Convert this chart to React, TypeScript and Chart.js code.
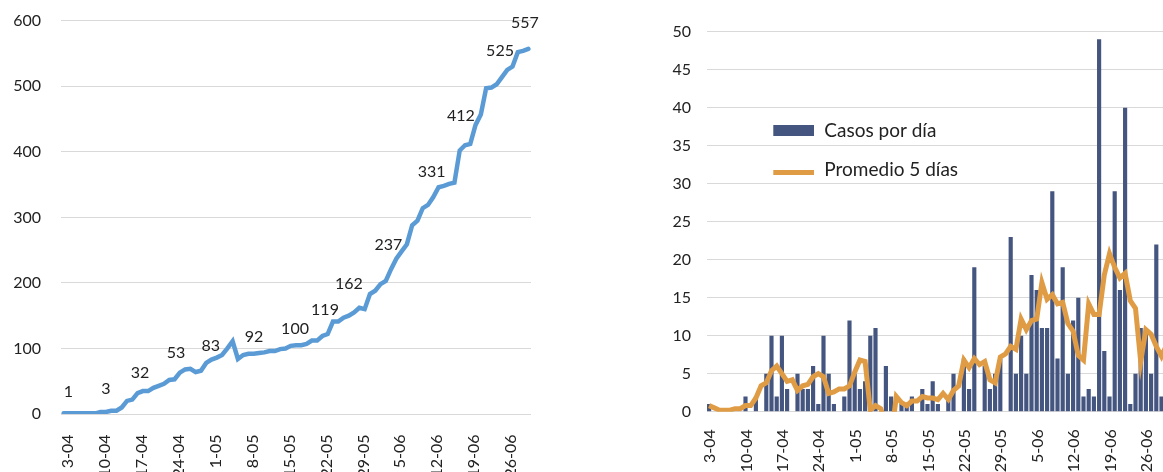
import React, { useEffect, useRef } from 'react';
import { Chart, registerables } from 'chart.js';

Chart.register(...registerables);

// ---------- data ----------
const DATES = [
  '3-04','4-04','5-04','6-04','7-04','8-04','9-04','10-04','11-04','12-04','13-04','14-04','15-04','16-04',
  '17-04','18-04','19-04','20-04','21-04','22-04','23-04','24-04','25-04','26-04','27-04','28-04','29-04','30-04',
  '1-05','2-05','3-05','4-05','5-05','6-05','7-05','8-05','9-05','10-05','11-05','12-05','13-05','14-05','15-05',
  '16-05','17-05','18-05','19-05','20-05','21-05','22-05','23-05','24-05','25-05','26-05','27-05','28-05','29-05',
  '30-05','31-05','1-06','2-06','3-06','4-06','5-06','6-06','7-06','8-06','9-06','10-06','11-06','12-06',
  '13-06','14-06','15-06','16-06','17-06','18-06','19-06','20-06','21-06','22-06','23-06','24-06','25-06','26-06',
  '27-06','28-06','29-06','30-06',
];

const TICK_LABELS = ['3-04','10-04','17-04','24-04','1-05','8-05','15-05','22-05','29-05','5-06','12-06','19-06','26-06'];

// Casos acumulados (left chart)
const CUMULATIVE = [
  1,1,1,1,1,1,1,3,3,5,5,10,20,22,
  32,35,35,40,43,46,52,53,63,68,69,64,66,78,
  83,86,90,100,111,84,90,92,92,93,94,96,96,99,
  100,104,105,105,107,112,112,119,122,141,141,147,150,155,
  162,160,183,188,198,203,221,237,248,259,288,295,314,319,
  331,346,348,351,353,402,410,412,441,457,497,498,503,514,
  525,530,552,554,557,
];

// Casos por día (right chart, bars)
const DAILY_CASES = [
  1,0,0,0,0,0,0,2,0,2,0,5,10,2,
  10,3,0,5,3,3,6,1,10,5,1,-5,2,12,
  5,3,4,10,11,-27,6,2,0,1,1,2,0,3,
  1,4,1,0,2,5,0,7,3,19,0,6,3,5,
  7,-2,23,5,10,5,18,16,11,11,29,7,19,5,
  12,15,2,3,2,49,8,2,29,16,40,1,5,11,
  11,5,22,2,3,
];

// Promedio 5 días (right chart, line)
const AVG_5_DAYS = [
  0.8,0.5,0.2,0.2,0.2,0.4,0.4,0.8,0.8,1.8,3.4,3.8,5.4,6.0,
  5.0,4.0,4.2,2.8,3.4,3.6,4.6,5.0,4.6,2.4,2.6,3.0,3.0,3.4,
  5.2,6.8,6.6,0.2,0.8,0.4,-1.6,-3.6,2.0,1.2,0.8,1.4,1.4,2.0,
  1.8,1.8,1.6,2.4,1.6,2.8,3.4,6.8,5.8,7.0,6.2,6.6,4.2,3.8,
  7.2,7.6,8.6,8.2,12.2,10.8,12.0,12.2,17.0,14.8,15.4,14.2,14.4,11.6,
  10.6,7.4,6.8,14.2,12.8,12.8,18.0,20.8,19.0,17.6,18.2,14.6,13.6,6.6,
  10.8,10.2,8.6,7.3,8.8,
];

const LABELED_DATES = ['3-04','10-04','17-04','24-04','1-05','8-05','15-05','22-05','29-05','5-06','12-06','19-06','26-06','30-06'];

const SERIES_BAR = 'Casos por día';
const SERIES_LINE = 'Promedio 5 días';

// ---------- styles ----------
const FONT = 'Lato, "Open Sans", sans-serif';
const TEXT = '#222222';
const GRID = '#D9D9D9';
const BLUE = '#5B9BD5';
const NAVY = '#44557F';
const ORANGE = '#DF9C45';
const LABEL_DX = [4.7, 5.4, 2.4, 1.5, -0.8, 5.5, 9.6, 2.6, -10.4, -8, -1.6, -9.3, -7.2, -3.4];
const LABEL_DY = [-21.6, -22.7, -19.7, -26, -13.9, -17, -19.2, -26, -23.5, -14.3, -24.7, -28, -18.9, -25.6];

function tickCallback(this: any, value: any) {
  const lab = this.getLabelForValue(value);
  return TICK_LABELS.includes(lab) ? lab : '';
}

const dataLabelPlugin = {
  id: 'cumLabels',
  afterDatasetsDraw(chart: any) {
    const ctx = chart.ctx;
    const meta = chart.getDatasetMeta(0);
    ctx.save();
    ctx.font = `16px ${FONT}`;
    ctx.fillStyle = TEXT;
    ctx.textAlign = 'center';
    ctx.textBaseline = 'middle';
    LABELED_DATES.forEach((d, k) => {
      const idx = DATES.indexOf(d);
      const pt = meta.data[idx];
      if (!pt) return;
      ctx.fillText(String(CUMULATIVE[idx]), pt.x + LABEL_DX[k], pt.y + LABEL_DY[k]);
    });
    ctx.restore();
  },
};

const legendPlugin = {
  id: 'innerLegend',
  afterDraw(chart: any) {
    const ctx = chart.ctx;
    ctx.save();
    ctx.fillStyle = NAVY;
    ctx.fillRect(153.3, 125, 40.7, 11);
    ctx.strokeStyle = ORANGE;
    ctx.lineWidth = 5;
    ctx.lineCap = 'butt';
    ctx.beginPath();
    ctx.moveTo(153.3, 172.5);
    ctx.lineTo(194, 172.5);
    ctx.stroke();
    ctx.font = `19px ${FONT}`;
    ctx.fillStyle = TEXT;
    ctx.textAlign = 'left';
    ctx.textBaseline = 'alphabetic';
    ctx.fillText(SERIES_BAR, 204.3, 136.7);
    ctx.fillText(SERIES_LINE, 204.3, 176);
    ctx.restore();
  },
};

function fixX(height: number) {
  return (s: any) => {
    s.height = height;
    s.paddingLeft = 0;
    s.paddingRight = 0;
    s.paddingTop = 0;
    s.paddingBottom = 0;
  };
}

function fixY(width: number) {
  return (s: any) => {
    s.width = width;
    s.paddingTop = 0;
    s.paddingBottom = 0;
    s.paddingLeft = 0;
    s.paddingRight = 0;
  };
}

export default function App() {
  const leftRef = useRef<HTMLCanvasElement>(null);
  const rightRef = useRef<HTMLCanvasElement>(null);

  useEffect(() => {
    const tickFont = { family: FONT, size: 16 };

    const left = new Chart(leftRef.current as HTMLCanvasElement, {
      type: 'line',
      data: {
        labels: DATES,
        datasets: [
          {
            label: 'Casos acumulados',
            data: CUMULATIVE,
            borderColor: BLUE,
            backgroundColor: BLUE,
            borderWidth: 4.5,
            pointRadius: 0,
            tension: 0,
            borderJoinStyle: 'miter',
            borderCapStyle: 'round',
          },
        ],
      },
      options: {
        animation: false,
        responsive: false,
        layout: { padding: { top: 20.7, right: 29, bottom: 0, left: 0 } },
        plugins: { legend: { display: false }, tooltip: { enabled: false } },
        scales: {
          x: {
            type: 'category',
            offset: true,
            grid: { display: false },
            border: { display: false },
            ticks: {
              autoSkip: false,
              minRotation: 90,
              maxRotation: 90,
              padding: 12.5,
              labelOffset: 4,
              color: TEXT,
              font: tickFont,
              callback: tickCallback,
            },
            afterFit: fixX(58),
          },
          y: {
            min: 0,
            max: 600,
            ticks: { stepSize: 100, padding: 20, color: TEXT, font: tickFont },
            grid: { color: GRID, lineWidth: 1, drawTicks: false },
            border: { display: false },
            afterFit: fixY(61),
          },
        },
      } as any,
      plugins: [dataLabelPlugin],
    });

    const right = new Chart(rightRef.current as HTMLCanvasElement, {
      type: 'bar',
      data: {
        labels: DATES,
        datasets: [
          {
            type: 'line',
            label: SERIES_LINE,
            data: AVG_5_DAYS,
            borderColor: ORANGE,
            backgroundColor: ORANGE,
            borderWidth: 5,
            pointRadius: 0,
            tension: 0,
            borderJoinStyle: 'miter',
            borderCapStyle: 'butt',
            order: 0,
          } as any,
          {
            type: 'bar',
            label: SERIES_BAR,
            data: DAILY_CASES,
            backgroundColor: NAVY,
            barPercentage: 0.8,
            categoryPercentage: 1,
            clip: 0,
            order: 1,
          } as any,
        ],
      },
      options: {
        animation: false,
        responsive: false,
        layout: { padding: { top: 31.7, right: 10.7, bottom: 0, left: 0 } },
        plugins: { legend: { display: false }, tooltip: { enabled: false } },
        scales: {
          x: {
            type: 'category',
            offset: true,
            grid: { display: false },
            border: { display: false },
            ticks: {
              autoSkip: false,
              minRotation: 90,
              maxRotation: 90,
              padding: 9.5,
              labelOffset: 1,
              color: TEXT,
              font: tickFont,
              callback: tickCallback,
            },
            afterFit: fixX(60.3),
          },
          y: {
            min: 0,
            max: 50,
            ticks: { stepSize: 5, padding: 15.5, color: TEXT, font: tickFont },
            grid: { color: GRID, lineWidth: 1, drawTicks: false },
            border: { display: false },
            afterFit: fixY(86.5),
          },
        },
      } as any,
      plugins: [legendPlugin],
    });

    return () => {
      left.destroy();
      right.destroy();
    };
  }, []);

  return (
    <div
      style={{
        position: 'fixed',
        left: 0,
        top: 0,
        width: 1163,
        height: 472,
        overflow: 'hidden',
        background: '#ffffff',
      }}
    >
      <div style={{ position: 'absolute', left: 0, top: 0, width: 560, height: 472 }}>
        <canvas ref={leftRef} width={560} height={472} style={{ width: 560, height: 472, display: 'block' }} />
      </div>
      <div style={{ position: 'absolute', left: 620, top: 0, width: 560, height: 472 }}>
        <canvas ref={rightRef} width={560} height={472} style={{ width: 560, height: 472, display: 'block' }} />
      </div>
    </div>
  );
}
